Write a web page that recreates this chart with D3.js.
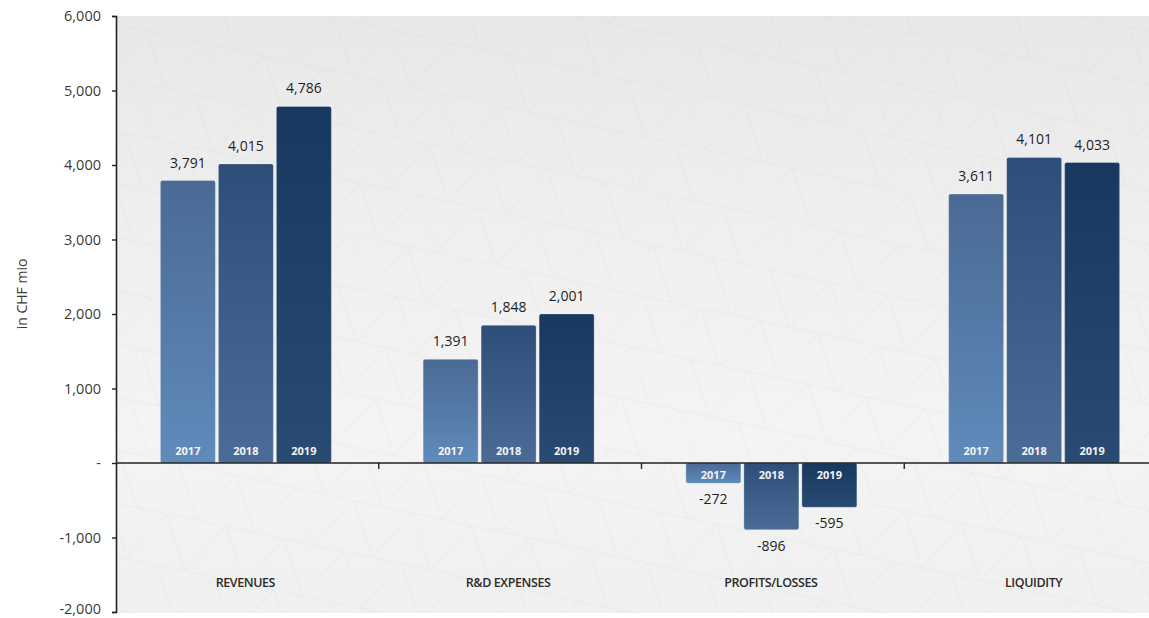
<!DOCTYPE html>
<html>
<head>
<meta charset="utf-8">
<script src="https://cdn.jsdelivr.net/npm/d3@7"></script>
<style>
  html, body { margin: 0; padding: 0; background: #ffffff; }
  svg { display: block; }
</style>
</head>
<body>
<svg id="chart" width="1149" height="618"></svg>
<script>
// ---- data ----
const categories = ["REVENUES", "R&D EXPENSES", "PROFITS/LOSSES", "LIQUIDITY"];
const years = ["2017", "2018", "2019"];
const values2017 = [3791, 1391, -272, 3611];
const values2018 = [4015, 1848, -896, 4101];
const values2019 = [4786, 2001, -595, 4033];
const yTicks = [-2000, -1000, 0, 1000, 2000, 3000, 4000, 5000, 6000];
const yTitle = "in CHF mio";

const seriesValues = [values2017, values2018, values2019];

const svg = d3.select("#chart");
const W = 1149, H = 618;
const plot = { left: 116, top: 16, right: 1167, bottom: 612 };

const defs = svg.append("defs");
const barColors = [
  { top: "#4a6a94", bottom: "#5f8bbb" },
  { top: "#2d4e79", bottom: "#4a6c97" },
  { top: "#173960", bottom: "#294b73" }
];
barColors.forEach((c, i) => {
  const g = defs.append("linearGradient").attr("id", "bar" + i)
    .attr("x1", 0).attr("y1", 0).attr("x2", 0).attr("y2", 1);
  g.append("stop").attr("offset", "0%").attr("stop-color", c.top);
  g.append("stop").attr("offset", "100%").attr("stop-color", c.bottom);
});
const bg = defs.append("linearGradient").attr("id", "bgGrad")
  .attr("x1", 0).attr("y1", 0).attr("x2", 0).attr("y2", 1);
bg.append("stop").attr("offset", "0%").attr("stop-color", "#e8e8e9");
bg.append("stop").attr("offset", "35%").attr("stop-color", "#efeff0");
bg.append("stop").attr("offset", "70%").attr("stop-color", "#f4f4f4");
bg.append("stop").attr("offset", "100%").attr("stop-color", "#f0f0f0");
const pat = defs.append("pattern").attr("id", "mesh")
  .attr("width", 60).attr("height", 52).attr("patternUnits", "userSpaceOnUse")
  .attr("patternTransform", "rotate(12)");
pat.append("path").attr("d", "M0,0 L60,0 M0,52 L60,52 M0,52 L30,0 L60,52 M-30,0 L0,52 M60,0 L90,52 M30,0 L0,-52")
  .attr("stroke", "#c9c9cc").attr("stroke-width", 0.6).attr("fill", "none");

const x = d3.scaleBand().domain(categories).range([plot.left, plot.right]).padding(0);
const groupW = 171;
const xs = d3.scaleBand().domain(years).range([0, groupW]).paddingInner(3 / 58);
const y = d3.scaleLinear().domain([-2000, 6000]).range([plot.bottom, plot.top]);

svg.append("rect").attr("x", plot.left).attr("y", plot.top)
  .attr("width", W - plot.left).attr("height", plot.bottom + 1 - plot.top)
  .attr("fill", "url(#bgGrad)");
svg.append("rect").attr("x", plot.left).attr("y", plot.top)
  .attr("width", W - plot.left).attr("height", plot.bottom + 1 - plot.top)
  .attr("fill", "url(#mesh)").attr("opacity", 0.3);

const data = [];
categories.forEach((c, ci) => {
  years.forEach((yr, si) => {
    data.push({ cat: c, year: yr, si: si, v: seriesValues[si][ci] });
  });
});
const groupOffset = (x.bandwidth() - groupW) / 2 - 1.5;
const bx = d => x(d.cat) + groupOffset + xs(d.year);

const bars = svg.append("g");
bars.selectAll("rect").data(data).join("rect")
  .attr("x", d => bx(d))
  .attr("y", d => y(Math.max(0, d.v)))
  .attr("width", xs.bandwidth())
  .attr("height", d => Math.abs(y(d.v) - y(0)))
  .attr("rx", 2)
  .attr("fill", d => `url(#bar${d.si})`)
  .attr("stroke", "rgba(255,255,255,0.35)")
  .attr("stroke-width", 0.8);

bars.selectAll("text.yr").data(data).join("text").attr("class", "yr")
  .attr("x", d => bx(d) + xs.bandwidth() / 2)
  .attr("y", d => d.v >= 0 ? y(0) - 8 : y(0) + 16)
  .attr("text-anchor", "middle")
  .attr("font-family", "'Open Sans', sans-serif")
  .attr("font-weight", 700)
  .attr("font-size", 11)
  .attr("fill", "#f2f4f8")
  .text(d => d.year);

const fmt = v => d3.format(",")(v).replace("\u2212", "-");
bars.selectAll("text.val").data(data).join("text").attr("class", "val")
  .attr("x", d => bx(d) + xs.bandwidth() / 2)
  .attr("y", d => d.v >= 0 ? y(d.v) - 13 : y(d.v) + 21)
  .attr("text-anchor", "middle")
  .attr("font-family", "'Open Sans', sans-serif")
  .attr("font-size", 14)
  .attr("fill", "#1e1e1e")
  .text(d => fmt(d.v));

const yAxis = d3.axisLeft(y).tickValues(yTicks).tickSize(4).tickPadding(11)
  .tickFormat(d => d === 0 ? "-" : fmt(d));
const ga = svg.append("g").attr("transform", `translate(${plot.left},0)`).call(yAxis);
ga.select(".domain").attr("stroke", "#222").attr("stroke-width", 1.6);
ga.selectAll(".tick line").attr("stroke", "#222").attr("stroke-width", 1.4);
ga.selectAll(".tick text").attr("font-family", "'Open Sans', sans-serif")
  .attr("font-size", 14.5).attr("fill", "#3a3a3a")
  .attr("dy", d => d === -2000 ? "0.1em" : "0.32em");

const gx = svg.append("g").attr("transform", `translate(0,${y(0)})`);
gx.append("path").attr("stroke", "#222").attr("stroke-width", 1.6).attr("fill", "none")
  .attr("d", `M${plot.left},0H${plot.right}`);
gx.selectAll("line.sep").data(categories.slice(1)).join("line").attr("class", "sep")
  .attr("x1", d => x(d)).attr("x2", d => x(d))
  .attr("y1", 0).attr("y2", 6)
  .attr("stroke", "#222").attr("stroke-width", 1.4);

svg.append("g").selectAll("text").data(categories).join("text")
  .attr("x", d => x(d) + x.bandwidth() / 2 - 2)
  .attr("y", 587)
  .attr("text-anchor", "middle")
  .attr("font-family", "'Open Sans', sans-serif")
  .attr("font-weight", 600)
  .attr("font-size", 12.5)
  .attr("letter-spacing", -0.4)
  .attr("fill", "#2a2a2a")
  .text(d => d);

svg.append("text")
  .attr("transform", `translate(27,${(plot.top + plot.bottom) / 2 - 20}) rotate(-90)`)
  .attr("text-anchor", "middle")
  .attr("font-family", "'Open Sans', sans-serif")
  .attr("font-size", 14)
  .attr("fill", "#3a3a3a")
  .text(yTitle);
</script>
</body>
</html>
